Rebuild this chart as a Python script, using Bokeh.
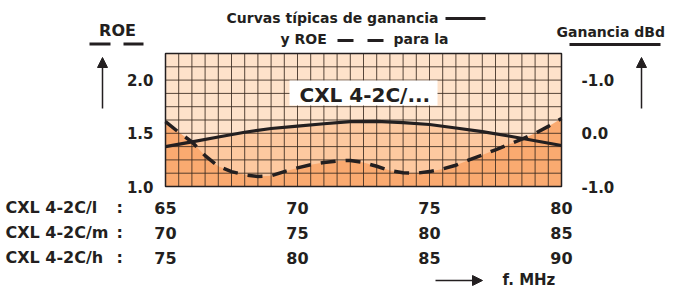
import numpy as np
from bokeh.plotting import figure
from bokeh.models import (Range1d, LinearAxis, FixedTicker, Label, Arrow, NormalHead,
                          BoxAnnotation, PrintfTickFormatter)
from bokeh.embed import file_html
from bokeh.resources import INLINE

# ---------------- data ----------------
freq_gain = [65, 66, 67, 68, 69, 70, 71, 72, 73, 74, 75, 76, 77, 78, 79, 80]
gain_dbd = [-0.25, -0.16, -0.07, 0.02, 0.09, 0.135, 0.18, 0.22, 0.225, 0.20, 0.165, 0.10, 0.03, -0.05, -0.14, -0.23]

freq_roe = [65.0, 65.5, 66.0, 66.5, 67.0, 67.5, 68.0, 68.5, 69.0, 69.5, 70.0, 70.5, 71.0, 71.5, 72.0,
            72.5, 73.0, 73.5, 74.0, 74.5, 75.0, 75.5, 76.0, 76.5, 77.0, 77.5, 78.0, 78.5, 79.0, 79.5, 80.0]
roe = [1.61, 1.51, 1.42, 1.29, 1.19, 1.14, 1.11, 1.095, 1.10, 1.14, 1.175, 1.205, 1.225, 1.24, 1.245,
       1.225, 1.19, 1.15, 1.13, 1.125, 1.14, 1.165, 1.20, 1.25, 1.295, 1.345, 1.395, 1.445, 1.50, 1.565, 1.64]

roe_ticks = [1.0, 1.5, 2.0]
gain_ticks = [-1.0, 0.0, 1.0]
gain_tick_labels = ["-1.0", "0.0", "-1.0"]
freq_ticks = [65, 70, 75, 80]
row_names = ["CXL 4-2C/l", "CXL 4-2C/m", "CXL 4-2C/h"]
row_labels = [["65", "70", "75", "80"], ["70", "75", "80", "85"], ["75", "80", "85", "90"]]

# ---------------- layout / style ----------------
LIGHT, MEDIUM, DARK = "#FEE2CA", "#FDC9A0", "#FAAA70"
INK = "#231f20"
FONT = "DejaVu Sans"
W, H = 681, 293
FL, FR, FT, FB = 165, 561, 53, 186          # chart panel in pixels
X0, X1, Y0, Y1 = 65.0, 80.0, 1.0, 2.25      # ROE panel range
G0, G1 = -1.0, 1.5                          # gain panel range


def px(X):
    return X0 + (X - FL) * (X1 - X0) / (FR - FL)


def py(Y):
    return Y0 + (FB - Y) * (Y1 - Y0) / (FB - FT)


def pg(Y):
    return G0 + (FB - Y) * (G1 - G0) / (FB - FT)


p = figure(width=W, height=H, x_range=Range1d(px(0), px(W)), y_range=Range1d(py(H), py(0)),
           output_backend="svg", toolbar_location=None,
           x_axis_location=None, y_axis_location=None, min_border=0)
p.extra_y_ranges = {"gain": Range1d(pg(H), pg(0))}
p.grid.visible = False
p.outline_line_color = None
p.background_fill_color = "white"
p.border_fill_color = "white"

# chart panel background and fills
p.quad(left=X0, right=X1, bottom=Y0, top=Y1, fill_color=LIGHT, line_color=None)
p.varea(x=freq_gain, y1=G0, y2=gain_dbd, y_range_name="gain", fill_color=MEDIUM)
p.varea(x=freq_roe, y1=Y0, y2=roe, fill_color=DARK)

# grid (0.5 MHz x 0.125 ROE)
gx = np.arange(X0 + 0.5, X1, 0.5)
gy = np.arange(Y0 + 0.125, Y1 - 0.01, 0.125)
p.segment(x0=gx, y0=Y0, x1=gx, y1=Y1, line_color="#3a2a20", line_alpha=0.85, line_width=1)
p.segment(x0=X0, y0=gy, x1=X1, y1=gy, line_color="#3a2a20", line_alpha=0.85, line_width=1)

# curves
p.line(freq_gain, gain_dbd, y_range_name="gain", line_color=INK, line_width=3.2)
p.line(freq_roe, roe, line_color=INK, line_width=3.5, line_dash="15 10")

# panel outline
p.quad(left=X0, right=X1, bottom=Y0, top=Y1, fill_color=None, line_color=INK, line_width=1.5)


def style_axis(ax, size, standoff):
    ax.axis_line_color = None
    ax.major_tick_line_color = None
    ax.minor_tick_line_color = None
    ax.major_tick_out = 0
    ax.major_tick_in = 0
    ax.minor_tick_out = 0
    ax.minor_tick_in = 0
    ax.major_label_text_font = FONT
    ax.major_label_text_font_style = "bold"
    ax.major_label_text_font_size = size
    ax.major_label_text_color = INK
    ax.major_label_standoff = standoff


# left axis (ROE)
la = LinearAxis(fixed_location=X0, ticker=FixedTicker(ticks=roe_ticks),
                formatter=PrintfTickFormatter(format="%.1f"))
style_axis(la, "15px", 12)
p.add_layout(la, "left")

# right axis (gain)
ra = LinearAxis(fixed_location=X1, y_range_name="gain", ticker=FixedTicker(ticks=gain_ticks),
                major_label_overrides=dict(zip(gain_ticks, gain_tick_labels)))
style_axis(ra, "15px", 20)
p.add_layout(ra, "right")

# three frequency scales below
for labels, standoff in zip(row_labels, [15, 40, 65]):
    ax = LinearAxis(fixed_location=Y0, ticker=FixedTicker(ticks=freq_ticks),
                    major_label_overrides=dict(zip(freq_ticks, labels)))
    style_axis(ax, "16px", standoff)
    p.add_layout(ax, "below")


def text(X, Y, s, size, align="left"):
    # Y is the wanted baseline; bokeh's alphabetic anchor sits a little higher
    yb = Y - 0.42 * size
    p.add_layout(Label(x=px(X), y=py(yb), text=s, text_font=FONT, text_font_style="bold",
                       text_font_size=f"{size}px", text_color=INK, text_align=align,
                       text_baseline="alphabetic"))


def seg(pairs, w=3):
    p.segment(x0=[px(a) for a, _, _ in pairs], x1=[px(b) for _, b, _ in pairs],
              y0=[py(y) for _, _, y in pairs], y1=[py(y) for _, _, y in pairs],
              line_color=INK, line_width=w)


def arrow(Xa, Ya, Xb, Yb):
    p.add_layout(Arrow(x_start=px(Xa), y_start=py(Ya), x_end=px(Xb), y_end=py(Yb),
                       end=NormalHead(size=10, fill_color=INK, line_color=INK, line_width=1),
                       line_color=INK, line_width=1.5))


# white model box
p.add_layout(BoxAnnotation(left=px(289), right=px(437), top=py(80), bottom=py(105),
                           fill_color="white", fill_alpha=1, line_color=None))
text(299, 103, "CXL 4-2C/...", 20)

# title / legend
text(438, 23, "Curvas típicas de ganancia", 14, "right")
text(280, 44, "y ROE", 14)
text(393, 44, "para la", 14)
seg([(445, 485, 18), (337, 353, 40), (367, 383, 40)])

# axis titles
text(117, 37, "ROE", 16, "center")
seg([(89, 110, 43.5), (123, 143, 43.5)])
arrow(102, 108, 102, 57)

text(556, 37, "Ganancia dBd", 14)
seg([(569, 660, 44)])
arrow(641, 108, 641, 57)

# row names
for name, base in zip(row_names, [214, 239, 264]):
    text(5, base, name, 16)
    text(116, base, ":", 16)

text(502, 286, "f. MHz", 15)
arrow(435, 280, 482, 280)

open("out.html", "w").write(file_html(p, INLINE))
